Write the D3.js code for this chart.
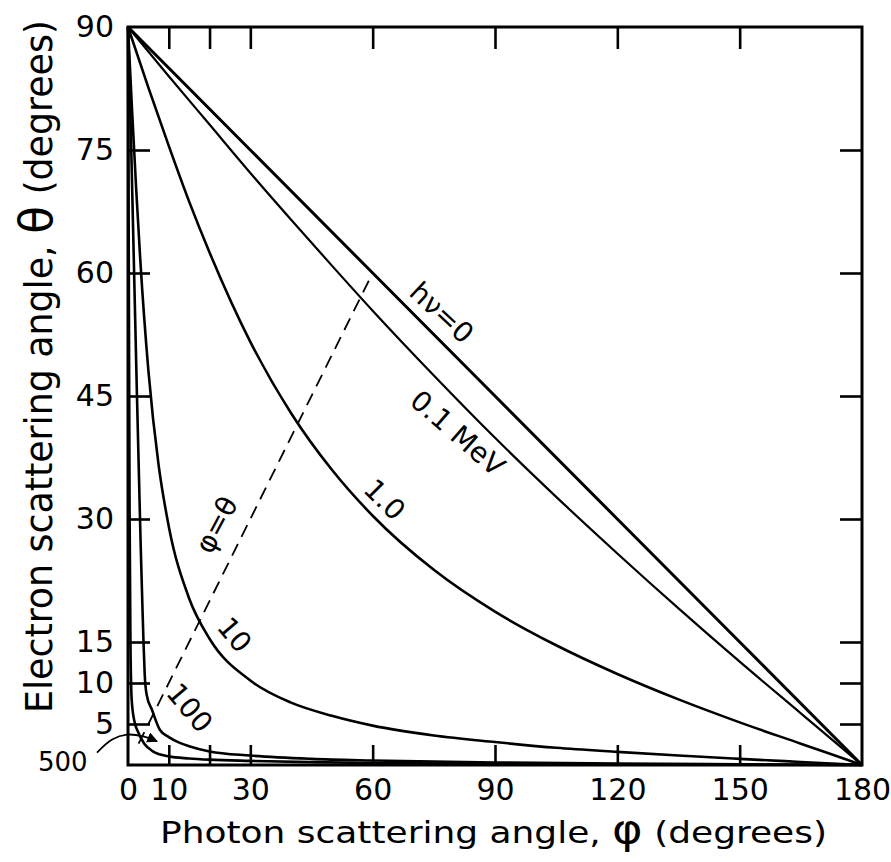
<!DOCTYPE html>
<html>
<head>
<meta charset="utf-8">
<script src="https://cdn.jsdelivr.net/npm/d3@7"></script>
<style>
body { margin: 0; background: #fff; }
svg text { font-family: "DejaVu Sans", sans-serif; fill: #000; }
</style>
</head>
<body>
<svg id="chart" width="891" height="862"></svg>
<script>
// [phi, theta] pairs in degrees
var hv0 = [[0, 90], [60, 60], [120, 30], [180, 0]];
var hv01 = [[0, 90], [10, 84.0], [20, 78.1], [30, 72.2], [40, 66.5], [50, 60.9], [60, 55.4], [75, 47.5],
    [90, 39.9], [105, 32.7], [120, 25.8], [135, 19.1], [150, 12.6], [165, 6.3], [180, 0]];
var hv1 = [[0, 90], [5, 82.6], [10, 75.5], [15, 68.7], [20, 62.5], [30, 51.6], [40, 42.9], [50, 36.0],
    [60, 30.4], [75, 23.8], [90, 18.7], [105, 14.6], [120, 11.1], [135, 8.0], [150, 5.2], [165, 2.6], [180, 0]];
var hv10 = [[0, 90], [1, 79.8], [2, 70.3], [3, 61.7], [5, 48.1], [7.5, 36.6], [10, 29.1], [15, 20.3],
    [20, 15.4], [30, 10.3], [40, 7.6], [50, 6.0], [60, 4.8], [75, 3.6], [90, 2.8], [105, 2.1], [120, 1.6],
    [135, 1.15], [150, 0.75], [165, 0.37], [180, 0]];
var hv100 = [[0, 90], [0.3, 85], [0.8, 75], [1.5, 60], [2.2, 45], [2.7, 35], [3.1, 27], [3.5, 20],
    [3.8, 15], [4.1, 11], [4.6, 8.5], [5.9, 6.7], [7.8, 4.3], [10, 3.4], [12.7, 2.7], [15, 2.3], [20, 1.65],
    [30, 1.15], [45, 0.75], [60, 0.55], [90, 0.3], [120, 0.17], [150, 0.08], [180, 0]];
var hv500 = [[0, 90], [0.2, 60], [0.4, 30], [0.6, 15], [0.9, 8], [1.5, 5.5], [2.5, 4], [4, 2.6], [6, 1.7],
    [10, 1.05], [15, 0.8], [20, 0.65], [30, 0.5], [45, 0.35], [60, 0.25], [90, 0.15], [120, 0.1],
    [150, 0.05], [180, 0]];
var phiEqTheta = [[2.6, 2.6], [60, 60]];
var arrow500 = [[-7.6, 1.5], [-3.9, 3.1], [-0.3, 3.7], [3.7, 3.5], [7.1, 2.9]];

var xTicks = [10, 20, 30, 60, 90, 120, 150];
var xLabels = [0, 10, 30, 60, 90, 120, 150, 180];
var yTicks = [5, 10, 15, 30, 45, 60, 75];
var yLabels = [5, 10, 15, 30, 45, 60, 75, 90];

var curveLabels = [
    { text: "hν=0", phi: 77, theta: 55.2, angle: 43 },
    { text: "0.1 MeV", phi: 80.9, theta: 40.5, angle: 41 },
    { text: "1.0", phi: 63, theta: 32.4, angle: 45 },
    { text: "10", phi: 26.2, theta: 15.9, angle: 50 },
    { text: "100", phi: 15.2, theta: 7.0, angle: 50 },
    { text: "φ=θ", phi: 21.6, theta: 29.3, angle: -62 },
    { text: "500", phi: -16, theta: 0.4, angle: 0 }
];

var svg = d3.select("#chart");
var x = d3.scaleLinear().domain([0, 180]).range([128, 862]);
var y = d3.scaleLinear().domain([0, 90]).range([765, 27]);

var line = d3.line()
    .x(d => x(d[0]))
    .y(d => y(d[1]))
    .curve(d3.curveMonotoneX);

//CURVES
var curves = [
    { data: hv0, w: 3 },
    { data: hv01, w: 2.2 },
    { data: hv1, w: 2.6 },
    { data: hv10, w: 2.6 },
    { data: hv100, w: 2.6 },
    { data: hv500, w: 2.6 }
];
svg.selectAll(".curve")
    .data(curves)
    .enter().append("path")
    .attr("class", "curve")
    .attr("d", d => line(d.data))
    .attr("fill", "none")
    .attr("stroke", "#000")
    .attr("stroke-width", d => d.w);

svg.append("path")
    .attr("d", d3.line().x(d => x(d[0])).y(d => y(d[1]))(phiEqTheta))
    .attr("fill", "none")
    .attr("stroke", "#000")
    .attr("stroke-width", 1.8)
    .attr("stroke-dasharray", "13,8");

//FRAME + TICKS
function noDomain(g) { g.select(".domain").remove(); g.selectAll("line").attr("stroke-width", 2.6); }

svg.append("g").attr("transform", "translate(0," + y(0) + ")")
    .call(d3.axisBottom(x).tickValues(xTicks).tickSize(-20).tickFormat("")).call(noDomain);
svg.append("g").attr("transform", "translate(0," + y(90) + ")")
    .call(d3.axisTop(x).tickValues(xTicks).tickSize(-22).tickFormat("")).call(noDomain);
svg.append("g").attr("transform", "translate(" + x(0) + ",0)")
    .call(d3.axisLeft(y).tickValues(yTicks).tickSize(-22).tickFormat("")).call(noDomain);
svg.append("g").attr("transform", "translate(" + x(180) + ",0)")
    .call(d3.axisRight(y).tickValues(yTicks).tickSize(-22).tickFormat("")).call(noDomain);

svg.append("rect")
    .attr("x", x(0)).attr("y", y(90))
    .attr("width", x(180) - x(0)).attr("height", y(0) - y(90))
    .attr("fill", "none").attr("stroke", "#000").attr("stroke-width", 3);

//TICK LABELS
function labelStyle(g) {
    g.select(".domain").remove();
    g.selectAll("text").style("font-size", "30px").attr("fill", "#000");
}
svg.append("g").attr("transform", "translate(0," + y(0) + ")")
    .call(d3.axisBottom(x).tickValues(xLabels).tickSize(0).tickPadding(14)).call(labelStyle);
svg.append("g").attr("transform", "translate(" + x(0) + ",0)")
    .call(d3.axisLeft(y).tickValues(yLabels).tickSize(0).tickPadding(14)).call(labelStyle);

//CURVE LABELS
svg.selectAll(".clabel")
    .data(curveLabels)
    .enter().append("text")
    .attr("class", "clabel")
    .attr("transform", d => "translate(" + x(d.phi) + "," + y(d.theta) + ") rotate(" + d.angle + ")")
    .attr("text-anchor", "middle")
    .attr("dy", "0.36em")
    .style("font-size", d => d.text == "500" ? "26px" : "28px")
    .text(d => d.text);

svg.append("defs").append("marker")
    .attr("id", "head")
    .attr("viewBox", "0 0 10 10")
    .attr("refX", 9).attr("refY", 5)
    .attr("markerWidth", 6).attr("markerHeight", 6)
    .attr("orient", "auto")
    .append("path").attr("d", "M0,0L10,5L0,10z").attr("fill", "#000");

svg.append("path")
    .attr("d", d3.line().x(d => x(d[0])).y(d => y(d[1])).curve(d3.curveCatmullRom)(arrow500))
    .attr("fill", "none")
    .attr("stroke", "#000")
    .attr("stroke-width", 1.8)
    .attr("marker-end", "url(#head)");

//AXIS TITLES
var xt = svg.append("text")
    .attr("x", 160).attr("y", 843)
    .attr("textLength", 667).attr("lengthAdjust", "spacingAndGlyphs")
    .style("font-size", "31px");
xt.append("tspan").text("Photon scattering angle, ");
xt.append("tspan").style("font-size", "40px").text("φ");
xt.append("tspan").text(" (degrees)");

var yt = svg.append("text")
    .attr("transform", "translate(52,713) rotate(-90)")
    .attr("textLength", 693).attr("lengthAdjust", "spacingAndGlyphs")
    .style("font-size", "37px");
yt.append("tspan").text("Electron scattering angle, ");
yt.append("tspan").style("font-size", "46px").text("θ");
yt.append("tspan").text(" (degrees)");
</script>
</body>
</html>
